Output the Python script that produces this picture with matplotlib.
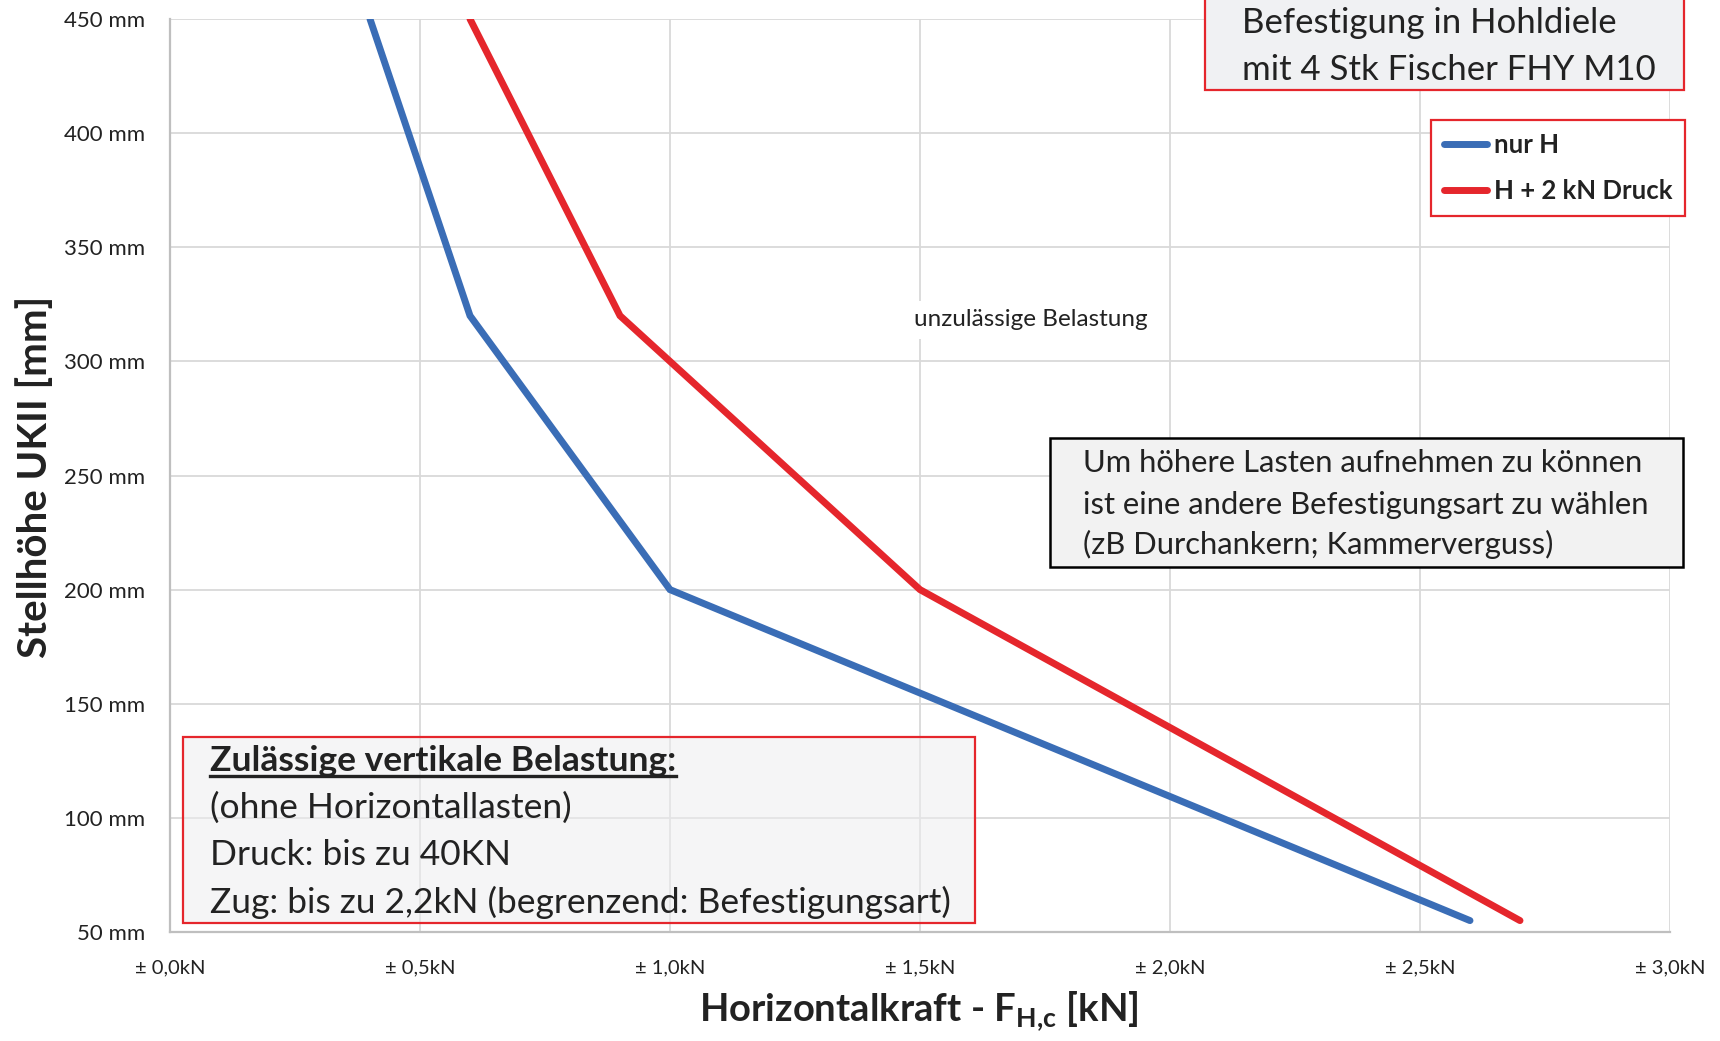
import matplotlib.pyplot as plt
from matplotlib.patches import Rectangle
from matplotlib.lines import Line2D

plt.rcParams['font.family'] = ['Lato', 'DejaVu Sans']
plt.rcParams['mathtext.fontset'] = 'custom'
plt.rcParams['mathtext.rm'] = 'Lato'
plt.rcParams['mathtext.bf'] = 'Lato:bold'

# ── data ──────────────────────────────────────────────────────────────────
nur_h_kn = [0.4, 0.6, 1.0, 2.6]
nur_h_mm = [450, 320, 200, 55]
druck_kn = [0.6, 0.9, 1.5, 2.7]
druck_mm = [450, 320, 200, 55]

x_ticks = [0.0, 0.5, 1.0, 1.5, 2.0, 2.5, 3.0]
x_tick_labels = ['± 0,0kN', '± 0,5kN', '± 1,0kN', '± 1,5kN',
                 '± 2,0kN', '± 2,5kN', '± 3,0kN']
y_ticks = [50, 100, 150, 200, 250, 300, 350, 400, 450]
y_tick_labels = [f'{v} mm' for v in y_ticks]

BLUE = '#3A6DB6'
RED = '#E5262C'
GRID = '#D9D9D9'
TXT = '#222222'

W, H = 1720, 1041
fig = plt.figure(figsize=(W / 100, H / 100), dpi=100)
ax = fig.add_axes([170 / W, 1 - 932 / H, 1500 / W, 913 / H])


def fx(px):
    return px / W


def fy(py):
    return 1 - py / H


def box(x0, y0, x1, y1, face, edge, lw=1.5, z=3):
    r = Rectangle((fx(x0), fy(y1)), (x1 - x0) / W, (y1 - y0) / H,
                  transform=fig.transFigure, facecolor=face, edgecolor=edge,
                  lw=lw, zorder=z, clip_on=False)
    fig.add_artist(r)


# ── curves ────────────────────────────────────────────────────────────────
l1, = ax.plot(nur_h_kn, nur_h_mm, color=BLUE, lw=5,
              solid_capstyle='round', solid_joinstyle='miter', label='nur H', zorder=4)
l2, = ax.plot(druck_kn, druck_mm, color=RED, lw=5,
              solid_capstyle='round', solid_joinstyle='miter', label='H + 2 kN Druck', zorder=4)

ax.set_xlim(0, 3)
ax.set_ylim(50, 450)
ax.set_xticks(x_ticks)
ax.set_xticklabels(x_tick_labels)
ax.set_yticks(y_ticks)
ax.set_yticklabels(y_tick_labels)
ax.tick_params(axis='both', length=0, colors=TXT)
ax.tick_params(axis='y', pad=18, labelsize=16)
ax.tick_params(axis='x', pad=20, labelsize=14.5)
ax.grid(color=GRID, lw=1.3)
ax.set_axisbelow(True)
for s in ['top', 'right']:
    ax.spines[s].set_visible(False)
for s in ['left', 'bottom']:
    ax.spines[s].set_color('#BFBFBF')
    ax.spines[s].set_linewidth(1.6)

# axis titles
fig.text(fx(35), fy(477), 'Stellhöhe UKII [mm]', rotation=90, fontsize=29,
         fontweight='bold', ha='center', va='center', color=TXT)
fig.text(fx(919), fy(1011), r'Horizontalkraft - F$_{\mathbf{H{,}c}}$ [kN]',
         fontsize=27.5, fontweight='bold', ha='center', va='center', color=TXT)

# ── title box ─────────────────────────────────────────────────────────────
box(1205, -2, 1684, 90, '#F0F1F3', RED, lw=1.6)
fig.text(fx(1242), fy(23), 'Befestigung in Hohldiele', fontsize=25,
         ha='left', va='center', color=TXT, zorder=5)
fig.text(fx(1242), fy(70), 'mit 4 Stk Fischer FHY M10', fontsize=25,
         ha='left', va='center', color=TXT, zorder=5)

# ── legend ────────────────────────────────────────────────────────────────
leg = ax.legend(handles=[l1, l2], loc='upper right',
                bbox_to_anchor=(fx(1685), fy(120)), bbox_transform=fig.transFigure,
                borderaxespad=0, fancybox=False, framealpha=1, edgecolor=RED,
                prop={'weight': 'bold', 'size': 18.5}, handlelength=1.7,
                handletextpad=0.25, labelspacing=0.85, borderpad=0.5)
leg.get_frame().set_linewidth(1.6)
for t in leg.get_texts():
    t.set_color(TXT)

# ── annotation in the plot ────────────────────────────────────────────────
fig.text(fx(1031), fy(320), 'unzulässige Belastung', fontsize=17.5,
         ha='center', va='center', color=TXT, zorder=5,
         bbox=dict(facecolor='white', edgecolor='none', pad=6))

box(1050, 438, 1683, 567, '#F2F2F2', 'black', lw=1.8)
for y, s in zip([463, 505, 544],
                ['Um höhere Lasten aufnehmen zu können',
                 'ist eine andere Befestigungsart zu wählen',
                 '(zB Durchankern; Kammerverguss)']):
    fig.text(fx(1083), fy(y), s, fontsize=22.3, ha='left', va='center',
             color=TXT, zorder=5)

box(183, 737, 975, 923, (0.93, 0.93, 0.94, 0.55), RED, lw=1.6)
head = fig.text(fx(210), fy(761), 'Zulässige vertikale Belastung:', fontsize=25.5,
                fontweight='bold', ha='left', va='center', color=TXT, zorder=5)
for y, s in zip([808, 855, 902],
                ['(ohne Horizontallasten)',
                 'Druck: bis zu 40KN',
                 'Zug: bis zu 2,2kN (begrenzend: Befestigungsart)']):
    fig.text(fx(210), fy(y), s, fontsize=25.5, ha='left', va='center',
             color=TXT, zorder=5)

# underline the bold heading
fig.canvas.draw()
bb = head.get_window_extent()
fig.add_artist(Line2D([bb.x0 / W, bb.x1 / W], [(bb.y0 + 1) / H] * 2,
                      transform=fig.transFigure, color=TXT, lw=2.4, zorder=5))

fig.savefig('out.png', dpi=100)
